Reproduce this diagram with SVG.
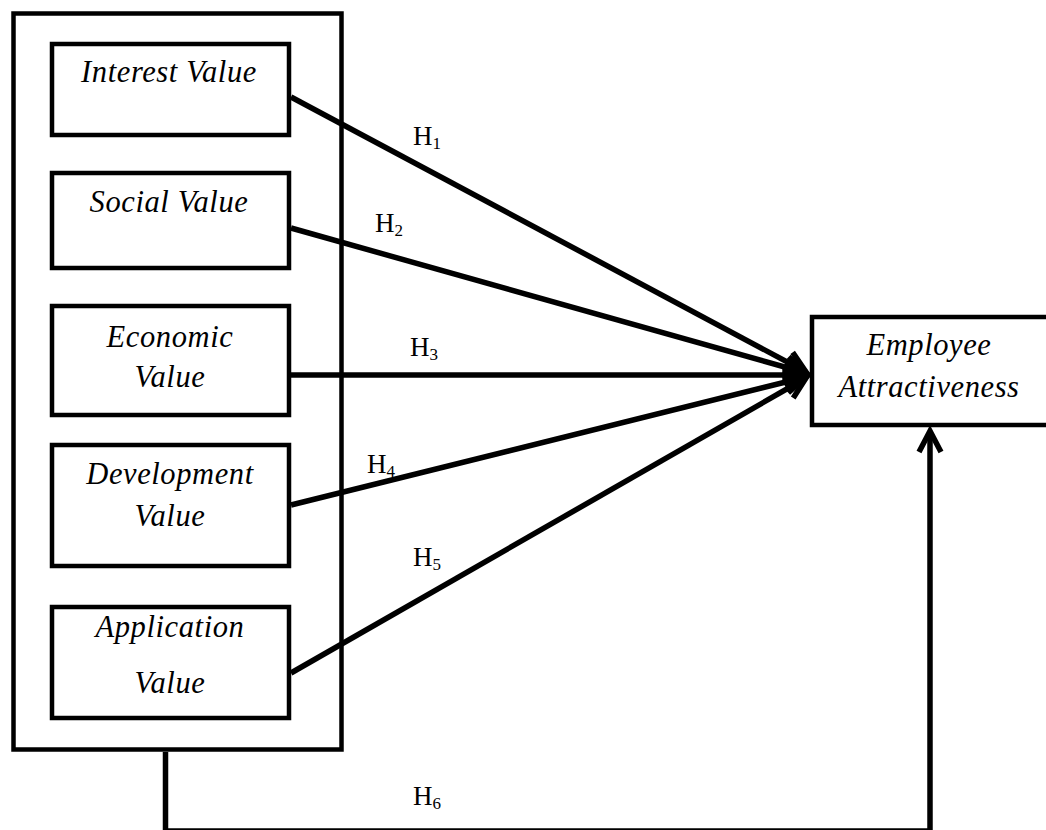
<svg xmlns="http://www.w3.org/2000/svg" width="1046" height="830" viewBox="0 0 1046 830">
<style>
.box{fill:#fff;stroke:#000;stroke-width:4.5}
.lbl{font-family:"Liberation Serif","Times New Roman",serif;font-style:italic;font-size:30.5px;letter-spacing:0.6px;fill:#000;text-anchor:middle}
.h{font-family:"Liberation Serif","Times New Roman",serif;font-size:27px;fill:#000}
.sub{font-size:17px}
.con{stroke:#000;stroke-width:5.5;fill:none}
</style>
<defs>
<marker id="arr" markerUnits="userSpaceOnUse" viewBox="-26 -14 30 28" markerWidth="30" markerHeight="28" refX="0" refY="0" orient="auto">
<path d="M-21,-11 L0,0 L-21,11" fill="none" stroke="#000" stroke-width="5.5"/>
</marker>
</defs>
<g id="outer"><rect class="box" x="13.5" y="13.5" width="328" height="736"/></g>
<g id="interest"><rect class="box" x="52" y="44" width="237" height="91"/><text class="lbl" x="169" y="82">Interest Value</text></g>
<g id="social"><rect class="box" x="52" y="173" width="237" height="95"/><text class="lbl" x="169" y="212">Social Value</text></g>
<g id="economic"><rect class="box" x="52" y="306" width="237" height="109"/><text class="lbl" x="170" y="347">Economic</text><text class="lbl" x="170" y="387">Value</text></g>
<g id="development"><rect class="box" x="52" y="445" width="237" height="121"/><text class="lbl" x="170" y="484">Development</text><text class="lbl" x="170" y="526">Value</text></g>
<g id="application"><rect class="box" x="52" y="607" width="237" height="111"/><text class="lbl" x="170" y="637">Application</text><text class="lbl" x="170" y="693">Value</text></g>
<g id="employee"><rect class="box" x="812" y="317" width="250" height="108"/><text class="lbl" x="929" y="355">Employee</text><text class="lbl" x="929" y="397">Attractiveness</text></g>
<g id="connectors">
<line class="con" x1="291" y1="97" x2="806" y2="372" marker-end="url(#arr)"/>
<line class="con" x1="291" y1="228" x2="806" y2="373" marker-end="url(#arr)"/>
<line class="con" x1="291" y1="375" x2="806" y2="375" marker-end="url(#arr)"/>
<line class="con" x1="291" y1="505" x2="806" y2="377" marker-end="url(#arr)"/>
<line class="con" x1="291" y1="673" x2="806" y2="378" marker-end="url(#arr)"/>
<path class="con" d="M165.5,752 V831 H930 V431" marker-end="url(#arr)"/>
</g>
<g id="labels">
<text class="h" x="413" y="145">H<tspan class="sub" dy="4">1</tspan></text>
<text class="h" x="375" y="232">H<tspan class="sub" dy="4">2</tspan></text>
<text class="h" x="410" y="356">H<tspan class="sub" dy="4">3</tspan></text>
<text class="h" x="367" y="473">H<tspan class="sub" dy="4">4</tspan></text>
<text class="h" x="413" y="566">H<tspan class="sub" dy="4">5</tspan></text>
<text class="h" x="413" y="805">H<tspan class="sub" dy="4">6</tspan></text>
</g>
</svg>
